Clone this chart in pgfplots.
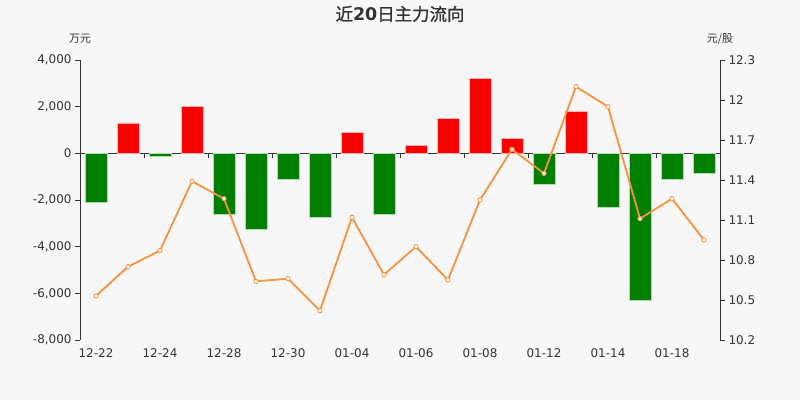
\documentclass[border=0pt]{standalone}
\usepackage{pgfplots}
\pgfplotsset{compat=1.18}
\usepackage{fontspec}
\setmainfont{DejaVu Sans}
\newfontfamily\cjk{Noto Sans CJK SC}
\newfontfamily\cjkb[FakeBold=1]{Noto Sans CJK SC}
\definecolor{bg}{HTML}{F7F7F7}
\definecolor{txt}{HTML}{333333}
\definecolor{ln}{HTML}{F5923E}
\definecolor{up}{HTML}{FF0000}
\definecolor{dn}{HTML}{008000}
\begin{document}
\begin{tikzpicture}[x=1bp,y=1bp]
\fill[bg] (0,0) rectangle (800,400);
\node[txt, font=\fontsize{17.5}{19}\selectfont] at (400,386) {{\cjkb 近}\textbf{20}{\cjkb 日主力流向}};
\node[txt, font=\cjk\fontsize{11}{12}\selectfont] at (80,361) {万元};
\node[txt, font=\cjk\fontsize{11}{12}\selectfont] at (720,361) {元/股};
\pgfplotsset{base/.style={at={(80bp,60bp)}, anchor=south west, scale only axis,
  width=640bp, height=280bp, xmin=-0.5, xmax=19.5,
  tick align=outside, major tick length=5bp,
  axis line style={txt, line width=0.9bp}, tick style={txt, line width=0.9bp},
  ticklabel style={txt, font=\fontsize{12}{14}\selectfont}, clip=false}}
\begin{axis}[base, ymin=-8000, ymax=4000,
  axis y line*=left, axis x line*=middle,
  xtick={1.5,3.5,...,17.5}, xticklabels={},
  ytick={-8000,-6000,-4000,-2000,0,2000,4000},
  yticklabels={{-8,000},{-6,000},{-4,000},{-2,000},0,{2,000},{4,000}},
  ybar, bar width=22bp, bar shift=0pt]
\addplot[fill=up, draw=up!30, line width=0.8bp] coordinates {(1,1300) (3,2000) (8,900) (10,350) (11,1500) (12,3200) (13,630) (15,1800)};
\addplot[fill=dn, draw=dn!30, line width=0.8bp] coordinates {(0,-2100) (2,-150) (4,-2600) (5,-3270) (6,-1100) (7,-2760) (9,-2630) (14,-1330) (16,-2330) (17,-6320) (18,-1100) (19,-880)};
\end{axis}
\begin{axis}[base, ymin=10.2, ymax=12.3,
  axis y line*=right, axis x line*=bottom,
  x axis line style={draw=none}, xtick style={draw=none},
  xtick={0,2,...,18},
  xticklabels={12-22,12-24,12-28,12-30,01-04,01-06,01-08,01-12,01-14,01-18},
  ytick={10.2,10.5,10.8,11.1,11.4,11.7,12,12.3},
  yticklabels={10.2,10.5,10.8,11.1,11.4,11.7,12,12.3}]
\addplot[ln, line width=1.8bp, mark=*, mark size=2.2bp, mark options={fill=white, draw=ln, line width=0.8bp}] coordinates {
(0,10.53) (1,10.75) (2,10.87) (3,11.39) (4,11.26) (5,10.64) (6,10.66) (7,10.42) (8,11.12) (9,10.69)
(10,10.90) (11,10.65) (12,11.25) (13,11.63) (14,11.45) (15,12.10) (16,11.95) (17,11.11) (18,11.26) (19,10.95)};
\end{axis}
\end{tikzpicture}
\end{document}
